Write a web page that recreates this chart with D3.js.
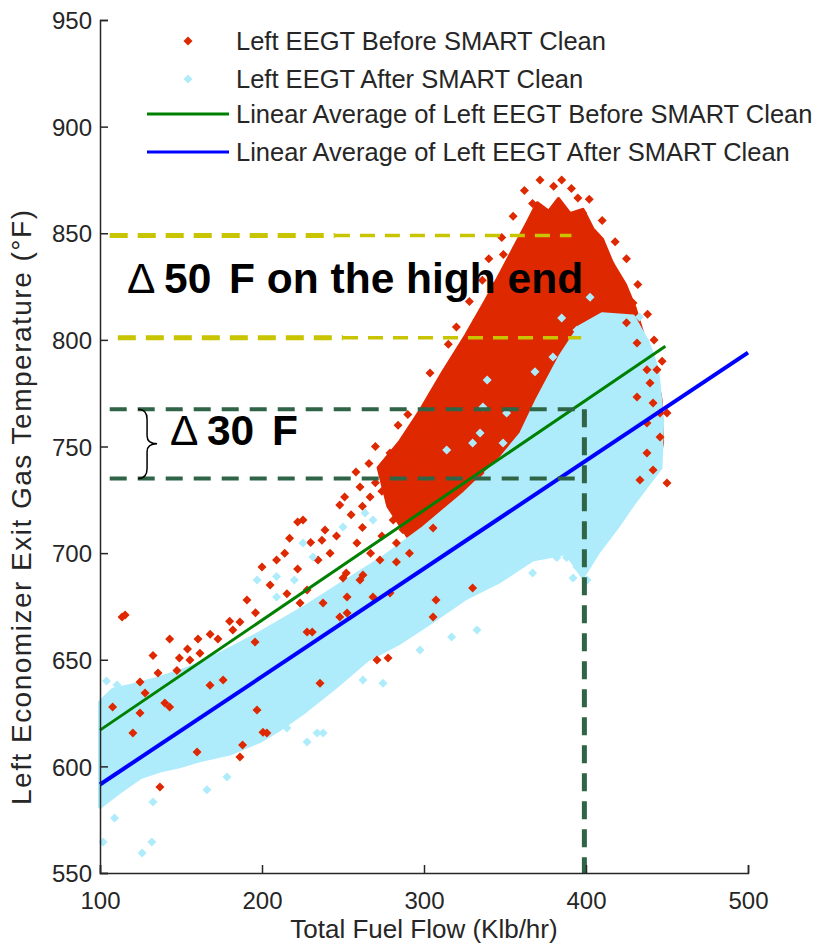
<!DOCTYPE html>
<html>
<head>
<meta charset="utf-8">
<script src="https://cdn.jsdelivr.net/npm/d3@7"></script>
<style>
body { margin: 0; background: #fff; }
text { font-family: "Liberation Sans", Arial, sans-serif; }
</style>
</head>
<body>
<svg id="chart" width="816" height="945"></svg>
<script>
// axis ticks
var xTicks = [100, 200, 300, 400, 500];
var yTicks = [550, 600, 650, 700, 750, 800, 850, 900, 950];

// dense part of each cloud, traced as an outline [fuel flow, temperature]
var beforeCore = [[272,740],[285,752],[298,767],[312,785],[326,802],[338,818],[348,832],[357,845],[364,855],[370,864],[377,860],[383,866],[390,859],[398,861],[404,852],[410,847],[416,836],[424,826],[430,815],[436,800],[442,788],[446,772],[447,752],[444,740],[430,730],[400,725],[370,712],[340,705],[310,702],[290,708],[278,722]];
var afterCore = [[100,581],[100,630],[108,636],[120,638],[135,641],[155,646],[175,653],[200,663],[225,674],[250,686],[275,698],[300,712],[325,728],[347,744],[360,756],[370,772],[384,792],[396,806],[410,812],[429,811],[438,799],[444,786],[447,762],[446,740],[440,734],[429,723],[419,712],[408,701],[398,689],[388,700],[367,697],[347,687],[326,679],[305,668],[285,658],[265,650],[245,637],[225,625],[210,617],[199,612],[180,606],[162,603],[149,600],[137,598],[125,595],[112,588]];

// loose points outside the dense parts
var beforePts = [[107.8,627.8],[113.6,670],[115.5,671],[120.3,615.7],[124.7,625],[124.7,639.6],[127.8,634.4],[132.7,652],[135.8,643.8],[137,590.3],[140,629.7],[143,627.8],[143,659.7],[147.5,645],[149,650.8],[154,655],[155.5,649.9],[159.9,606.7],[160.5,659.7],[161.7,653],[167.9,638],[168,662],[172.8,659.7],[176,640.5],[180,668],[182,664],[186.4,667.7],[186.4,604.4],[188,610],[190.7,678],[195.7,658.3],[196,672],[196.9,626.4],[200,693.5],[200.6,616],[203,615.7],[205,685],[209,696.8],[214,700],[215.4,681],[217,707],[222,714.6],[222,692.6],[223.5,676.6],[225.3,715.5],[227.8,663],[227.8,682.7],[230,705],[231,663],[234.6,696.8],[235.8,639],[237,706],[237.7,676.6],[238.9,710.8],[242,700],[246,708],[248,722.6],[248,670],[250,688.3],[251,726.3],[252,690.7],[252.5,671.9],[252.5,679.4],[255,718],[258,738],[258.6,704.7],[260.5,687.4],[260.5,731],[262,712],[262,722],[262.3,689.8],[266,742],[266.7,726.3],[267,700],[268.5,679.4],[270,733],[270,750],[271,649.9],[272.8,696.8],[274,708],[274,729],[277,739],[277.8,650.8],[279,681.3],[279,723.5],[279,747],[280.9,729.6],[281,715.5],[283,695.8],[283,704.7],[284,760],[285,720],[286,738],[287,711],[289,745],[290,765],[291,720],[291,700],[293,754.5],[296,731],[297,750],[300,740],[301,760],[303.7,784.5],[305.6,711.8],[305.6,670],[305.6,775],[307.4,678],[315,798],[316,731],[320,806],[324,796.7],[328,818],[330,683.6],[332.7,809.3],[334.6,737.6],[336,828],[340,838],[343,825],[348,848],[349,840],[355,858],[357,843],[362,870],[367,834],[367,864],[371.6,875],[377,850],[380,872],[385,875],[386,845],[391,871],[395,866.5],[398,859.5],[402,866],[404.6,850],[408.6,843.6],[410,856],[414.8,836],[418,846],[419,828],[425,838],[425,808],[429,817.3],[431.5,798.5],[431.5,773.2],[432,826],[433.3,734.3],[437.6,786],[437.6,761],[437.6,747],[438,812],[439.5,779.8],[441.4,770.4],[441.4,739],[442,800],[443.8,786],[445.7,754.5],[445.7,765.7],[447,790],[450,765.7],[450,732.9]];
var afterPts = [[101.9,564.5],[109,575.8],[126,559.4],[132,564.5],[132.7,583.3],[166,589],[178.4,595],[172.8,607.7],[110.5,638.2],[104,640],[197,687.4],[209,689],[209,679.4],[215.4,618],[220,687.4],[225.3,704.7],[227.8,611.4],[231.5,698.2],[234,615.6],[237.7,615.7],[246,674.7],[250,712.2],[262.3,640.5],[263.6,718.8],[268.5,715.5],[274.7,639],[297.5,654.6],[317,660.7],[332.7,664],[355,692],[367,690.7],[382,698],[388,698],[392,688.3],[394.4,693.5],[400.6,687.4],[314,748.4],[330,751.6],[334.6,756.3],[336.4,768.5],[339,781.2],[348.8,751.6],[351,765.7],[361,754.5],[368.5,785],[379.6,792],[385,810.3],[394.4,804.6],[402.5,820],[433,810.7]];

// linear averages (end points)
var beforeFit = [[100,617],[449,797]];
var afterFit = [[100,591.5],[500,794]];

// annotation reference levels
var highEnd = [849, 801];
var lowEnd = [767.5, 735];
var markFlow = 399;

var legendLabels = ["Left EEGT Before SMART Clean", "Left EEGT After SMART Clean",
    "Linear Average of Left EEGT Before SMART Clean", "Linear Average of Left EEGT After SMART Clean"];

var red = "#de2800", cyan = "#aeecfc", green = "#008000", blue = "#0000ff";
var olive = "#c8c400", darkGreen = "#2f6446", ink = "#262626";

var svg = d3.select("#chart");
var x = d3.scaleLinear().domain([100, 500]).range([100, 748]);
var y = d3.scaleLinear().domain([550, 950]).range([873, 20]);

var line = d3.line().x(function (d) { return x(d[0]); }).y(function (d) { return y(d[1]); });

function diamond(px, py, r) {
    return "M" + px + "," + (py - r) + "L" + (px + r) + "," + py + "L" + px + "," + (py + r) + "L" + (px - r) + "," + py + "Z";
}

// before clean (drawn first, after clean sits on top)
svg.append("path").attr("d", line(beforeCore) + "Z")
    .attr("fill", red).attr("stroke", red).attr("stroke-width", 4).attr("stroke-linejoin", "round");
svg.append("path").attr("d", line(afterCore) + "Z")
    .attr("fill", cyan).attr("stroke", cyan).attr("stroke-width", 4).attr("stroke-linejoin", "round");

svg.append("g").selectAll("path").data(beforePts).enter().append("path")
    .attr("d", function (d) { return diamond(x(d[0]), y(d[1]), 4.5); })
    .attr("fill", red);
svg.append("g").selectAll("path").data(afterPts).enter().append("path")
    .attr("d", function (d) { return diamond(x(d[0]), y(d[1]), 4.5); })
    .attr("fill", cyan);

// fits
svg.append("path").attr("d", line(beforeFit)).attr("stroke", green).attr("stroke-width", 3).attr("fill", "none");
svg.append("path").attr("d", line(afterFit)).attr("stroke", blue).attr("stroke-width", 4).attr("fill", "none");

// dashed reference lines
function hdash(yv, x0, x1, color, w, dash) {
    svg.append("line").attr("x1", x(x0)).attr("x2", x(x1)).attr("y1", y(yv)).attr("y2", y(yv))
        .attr("stroke", color).attr("stroke-width", w).attr("stroke-dasharray", dash);
}
hdash(highEnd[0], 106, 245, olive, 5, "18,10");
hdash(highEnd[0], 245, 391, olive, 3.5, "15,10");
hdash(highEnd[1], 111, 250, olive, 5, "18,10");
hdash(highEnd[1], 250, 397, olive, 3.5, "15,10");
hdash(lowEnd[0], 106, markFlow, darkGreen, 4, "17,11");
hdash(lowEnd[1], 106, 397, darkGreen, 4, "17,11");
svg.append("line").attr("x1", x(markFlow)).attr("x2", x(markFlow)).attr("y1", y(lowEnd[0])).attr("y2", y(550))
    .attr("stroke", darkGreen).attr("stroke-width", 5).attr("stroke-dasharray", "18,10");

// brace for the 30 F gap
var bx = x(123.5), by0 = y(lowEnd[0]), by1 = y(lowEnd[1]), bm = (by0 + by1) / 2;
svg.append("path")
    .attr("d", "M" + bx + "," + by0 + " Q" + (bx + 9) + "," + by0 + " " + (bx + 9) + "," + (by0 + 10) +
        " L" + (bx + 9) + "," + (bm - 8) + " Q" + (bx + 9) + "," + bm + " " + (bx + 19) + "," + bm +
        " Q" + (bx + 9) + "," + bm + " " + (bx + 9) + "," + (bm + 8) +
        " L" + (bx + 9) + "," + (by1 - 10) + " Q" + (bx + 9) + "," + by1 + " " + bx + "," + by1)
    .attr("fill", "none").attr("stroke", "#000").attr("stroke-width", 1.5);

// annotation text
function note(px, py, num) {
    var t = svg.append("text").attr("y", py).attr("font-size", 42.5).attr("fill", "#000");
    t.append("tspan").attr("x", px).text("\u0394");
    t.append("tspan").attr("x", px + 37).attr("font-weight", "bold").text(num[0]);
    t.append("tspan").attr("x", px + 102).attr("font-weight", "bold").text(num[1]);
}
note(x(116.7), y(822), ["50", "F on the high end"]);
note(x(143.2), y(750.5), ["30", "F"]);

// axes
var gx = svg.append("g").attr("transform", "translate(0," + y(550) + ")")
    .call(d3.axisBottom(x).tickValues(xTicks).tickSize(-8).tickPadding(14));
var gy = svg.append("g").attr("transform", "translate(" + x(100) + ",0)")
    .call(d3.axisLeft(y).tickValues(yTicks).tickSize(-8).tickPadding(8));
[gx, gy].forEach(function (g) {
    g.select(".domain").attr("stroke", ink).attr("stroke-width", 1.5);
    g.selectAll(".tick line").attr("stroke", ink).attr("stroke-width", 1.5);
    g.selectAll(".tick text").attr("fill", ink).attr("font-size", 24)
        .attr("font-family", "'Liberation Sans', Arial, sans-serif");
});
gy.selectAll(".tick text").attr("dy", "0.36em");
gx.selectAll(".tick text").attr("dy", "0.9em");

svg.append("text").attr("x", 424).attr("y", 938).attr("text-anchor", "middle")
    .attr("font-size", 26).attr("fill", ink).text("Total Fuel Flow (Klb/hr)");
svg.append("text").attr("transform", "translate(31,805) rotate(-90)")
    .attr("font-size", 28).attr("fill", ink)
    .attr("textLength", 595).attr("lengthAdjust", "spacing")
    .text("Left Economizer Exit Gas Temperature (\u00B0F)");

// legend
var leg = svg.append("g");
var rowsY = [41, 79, 114, 152];
leg.append("path").attr("d", diamond(188, rowsY[0], 4.5)).attr("fill", red);
leg.append("path").attr("d", diamond(188, rowsY[1], 4.5)).attr("fill", cyan);
leg.append("line").attr("x1", 147).attr("x2", 229).attr("y1", rowsY[2]).attr("y2", rowsY[2]).attr("stroke", green).attr("stroke-width", 3);
leg.append("line").attr("x1", 147).attr("x2", 229).attr("y1", rowsY[3]).attr("y2", rowsY[3]).attr("stroke", blue).attr("stroke-width", 3);
leg.selectAll("text").data(legendLabels).enter().append("text")
    .attr("x", 236).attr("y", function (d, i) { return rowsY[i] + 9; })
    .attr("font-size", 25.5).attr("fill", ink).text(function (d) { return d; });
</script>
</body>
</html>
